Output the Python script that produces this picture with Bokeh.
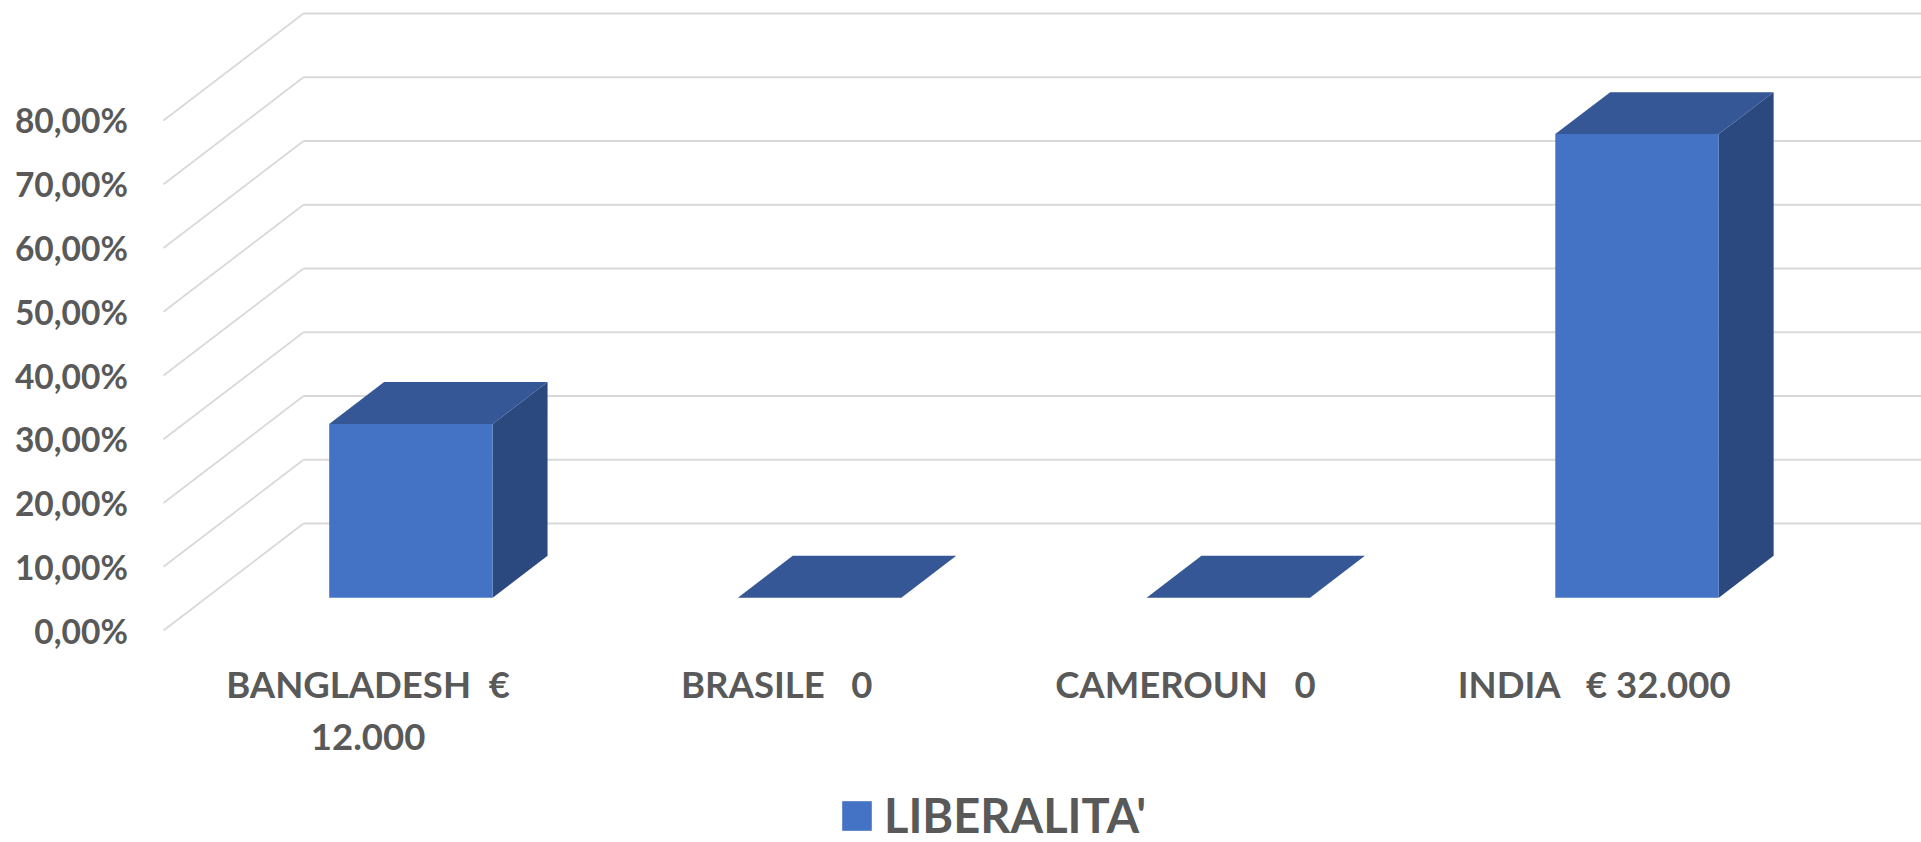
from bokeh.plotting import figure
from bokeh.embed import file_html
from bokeh.resources import INLINE
from bokeh.models import Range1d, LinearAxis, FixedTicker, Legend, LegendItem

# ---- data ----
categories = ["BANGLADESH\u00a0\u00a0€\n12.000", "BRASILE\u00a0\u00a0\u00a00", "CAMEROUN\u00a0\u00a0\u00a00", "INDIA\u00a0\u00a0\u00a0€ 32.000"]
values = [27.27, 0.0, 0.0, 72.73]
grid_values = [0, 10, 20, 30, 40, 50, 60, 70, 80]
grid_labels = ["0,00%", "10,00%", "20,00%", "30,00%", "40,00%", "50,00%", "60,00%", "70,00%", "80,00%"]
series_name = "LIBERALITA'"

# ---- oblique projection used by the 3-D look (data units) ----
DX = 0.3426      # x shift from front plane to back wall
DY = 16.78       # value shift from front plane to back wall
BAR_W = 0.40
D_FRONT, D_BACK = 0.306, 0.698
AXIS_X = -0.5006

C_FRONT, C_TOP, C_SIDE = "#4472C4", "#355795", "#2B487F"
C_GRID, C_TEXT = "#D9D9D9", "#595959"
FONT = "Lato"

X_START, X_END = -0.8994, 3.8009
p = figure(width=1921, height=842, output_backend="svg", toolbar_location=None,
           x_range=Range1d(X_START, X_END), y_range=Range1d(-33.25, 98.82),
           x_axis_location=None, y_axis_location=None,
           min_border_left=0, min_border_right=0, min_border_top=0, min_border_bottom=0)
p.outline_line_color = None
p.background_fill_color = "white"
p.grid.visible = False

# gridlines: diagonal side wall + back wall
p.segment(x0=[AXIS_X] * len(grid_values), y0=grid_values,
          x1=[AXIS_X + DX] * len(grid_values), y1=[v + DY for v in grid_values],
          line_color=C_GRID, line_width=1.8)
p.segment(x0=[AXIS_X + DX] * len(grid_values), y0=[v + DY for v in grid_values],
          x1=[X_END] * len(grid_values), y1=[v + DY for v in grid_values],
          line_color=C_GRID, line_width=2)

# bars
lefts, rights, tops, bottoms = [], [], [], []
side_x, side_y, top_x, top_y = [], [], [], []
for i, v in enumerate(values):
    l = i + D_FRONT * DX - BAR_W / 2
    r = l + BAR_W
    b = D_FRONT * DY
    t = b + v
    dx = (D_BACK - D_FRONT) * DX
    dy = (D_BACK - D_FRONT) * DY
    lefts.append(l); rights.append(r); tops.append(t); bottoms.append(b)
    side_x.append([r, r + dx, r + dx, r]); side_y.append([b, b + dy, t + dy, t])
    top_x.append([l, r, r + dx, l + dx]); top_y.append([t, t, t + dy, t + dy])

p.patches(side_x, side_y, fill_color=C_SIDE, line_color=None)
p.patches(top_x, top_y, fill_color=C_TOP, line_color=None)
front = p.quad(left=lefts, right=rights, top=tops, bottom=bottoms, fill_color=C_FRONT, line_color=None)

# axes, pinned inside the full-canvas frame
ya = LinearAxis(ticker=FixedTicker(ticks=grid_values), fixed_location=-0.5094,
                major_label_overrides=dict(zip(grid_values, grid_labels)),
                axis_line_color=None, major_tick_line_color=None, minor_tick_line_color=None,
                major_label_standoff=26, major_label_text_font=FONT, major_label_text_font_style="bold",
                major_label_text_font_size="33.5px", major_label_text_color=C_TEXT)
p.add_layout(ya, "left")

xa = LinearAxis(ticker=FixedTicker(ticks=list(range(len(categories)))), fixed_location=0.78,
                major_label_overrides=dict(enumerate(categories)),
                axis_line_color=None, major_tick_line_color=None, minor_tick_line_color=None,
                major_label_standoff=30, major_label_text_font=FONT, major_label_text_font_style="bold",
                major_label_text_font_size="36.5px", major_label_text_color=C_TEXT)
p.add_layout(xa, "below")

legend = Legend(items=[LegendItem(label=series_name, renderers=[front])],
                location=(838, -1), orientation="horizontal", border_line_color=None,
                background_fill_alpha=0, glyph_width=37, glyph_height=37, label_standoff=9,
                label_text_font=FONT, label_text_font_style="bold", label_text_font_size="47px",
                label_text_color=C_TEXT, margin=0, padding=0)
p.add_layout(legend, "center")

open("out.html", "w").write(file_html(p, INLINE))
